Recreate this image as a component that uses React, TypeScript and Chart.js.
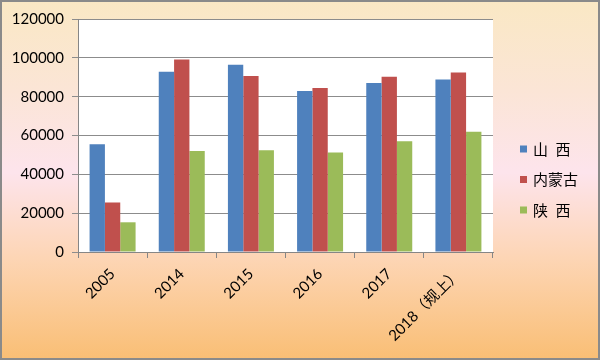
import React, { useEffect, useRef } from "react";
import { Chart, registerables } from "chart.js";

Chart.register(...registerables);

const categories = ["2005", "2014", "2015", "2016", "2017", "2018（规上）"];
const seriesNames = ["山 西", "内蒙古", "陕 西"];
const shanxi = [55500, 92800, 96400, 82900, 87000, 88900];
const neimenggu = [25500, 99200, 90600, 84400, 90200, 92500];
const shaanxi = [15300, 52000, 52400, 51300, 57000, 61900];
const seriesColors = ["#4F81BD", "#C0504D", "#9BBB59"];
const yTicks = [0, 20000, 40000, 60000, 80000, 100000, 120000];

const FONT = "Lato, 'Noto Sans CJK SC', sans-serif";
const CJK_FONT = "'Noto Sans CJK SC', Lato, sans-serif";

const bgPlugin = {
  id: "bg",
  beforeDraw(chart: any) {
    const { ctx, width, height, chartArea } = chart;
    ctx.save();
    const g = ctx.createLinearGradient(0, 0, 0, height);
    g.addColorStop(0, "#FAE8C4");
    g.addColorStop(0.25, "#FBE5D6");
    g.addColorStop(0.48, "#FDE4EC");
    g.addColorStop(0.72, "#FDD5B4");
    g.addColorStop(1, "#F9BE74");
    ctx.fillStyle = g;
    ctx.fillRect(0, 0, width, height);
    ctx.strokeStyle = "#8A8A8A";
    ctx.lineWidth = 2;
    ctx.strokeRect(1, 1, width - 2, height - 2);
    ctx.fillStyle = "#FFFFFF";
    ctx.fillRect(chartArea.left, chartArea.top, chartArea.right - chartArea.left, chartArea.bottom - chartArea.top);
    ctx.restore();
  },
};

const legendPlugin = {
  id: "customLegend",
  afterDraw(chart: any) {
    const { ctx } = chart;
    ctx.save();
    ctx.font = "15px " + CJK_FONT;
    ctx.textBaseline = "middle";
    ctx.textAlign = "left";
    chart.data.datasets.forEach((ds: any, i: number) => {
      const cy = 149 + i * 30.5;
      ctx.fillStyle = ds.backgroundColor;
      ctx.fillRect(520, cy - 3.5, 7, 7);
      ctx.fillStyle = "#000000";
      ctx.fillText(String(ds.label).replace(/ /g, "\u2002"), 533, cy);
    });
    ctx.restore();
  },
};

export default function App() {
  const ref = useRef<HTMLCanvasElement>(null);
  useEffect(() => {
    document.body.style.margin = "0";
    const datasetsValues = [shanxi, neimenggu, shaanxi];
    const chart = new Chart(ref.current as HTMLCanvasElement, {
      type: "bar",
      data: {
        labels: categories,
        datasets: datasetsValues.map((vals, i) => ({
          label: seriesNames[i],
          data: vals,
          backgroundColor: seriesColors[i],
          borderWidth: 0,
          categoryPercentage: 0.665,
          barPercentage: 1,
        })),
      },
      options: {
        responsive: false,
        animation: false,
        devicePixelRatio: 1,
        layout: { padding: { top: 19, right: 107, left: 0, bottom: 0 } },
        plugins: {
          legend: { display: false },
          tooltip: { enabled: false },
        },
        scales: {
          x: {
            grid: {
              drawOnChartArea: false,
              drawTicks: true,
              tickLength: 6,
              color: "#868686",
              offset: true,
            },
            border: { color: "#868686", width: 1 },
            ticks: {
              minRotation: 45,
              maxRotation: 45,
              color: "#000000",
              font: { family: FONT, size: 15 },
              padding: 7,
              autoSkip: false,
            },
            afterFit(scale: any) {
              scale.height = 108;
            },
          },
          y: {
            min: 0,
            max: 120000,
            afterBuildTicks(scale: any) {
              scale.ticks = yTicks.map((v) => ({ value: v }));
            },
            grid: {
              color: "#8C8C8C",
              lineWidth: 1,
              tickLength: 6,
              drawTicks: true,
            },
            border: { color: "#868686", width: 1 },
            ticks: {
              color: "#000000",
              font: { family: FONT, size: 15 },
              padding: 8,
              callback: (v: any) => String(v),
            },
            afterFit(scale: any) {
              scale.width = 78;
            },
          },
        },
      },
      plugins: [bgPlugin, legendPlugin],
    });
    return () => chart.destroy();
  }, []);
  return (
    <div style={{ width: 600, height: 360, position: "relative" }}>
      <canvas ref={ref} width={600} height={360} style={{ display: "block" }} />
    </div>
  );
}
